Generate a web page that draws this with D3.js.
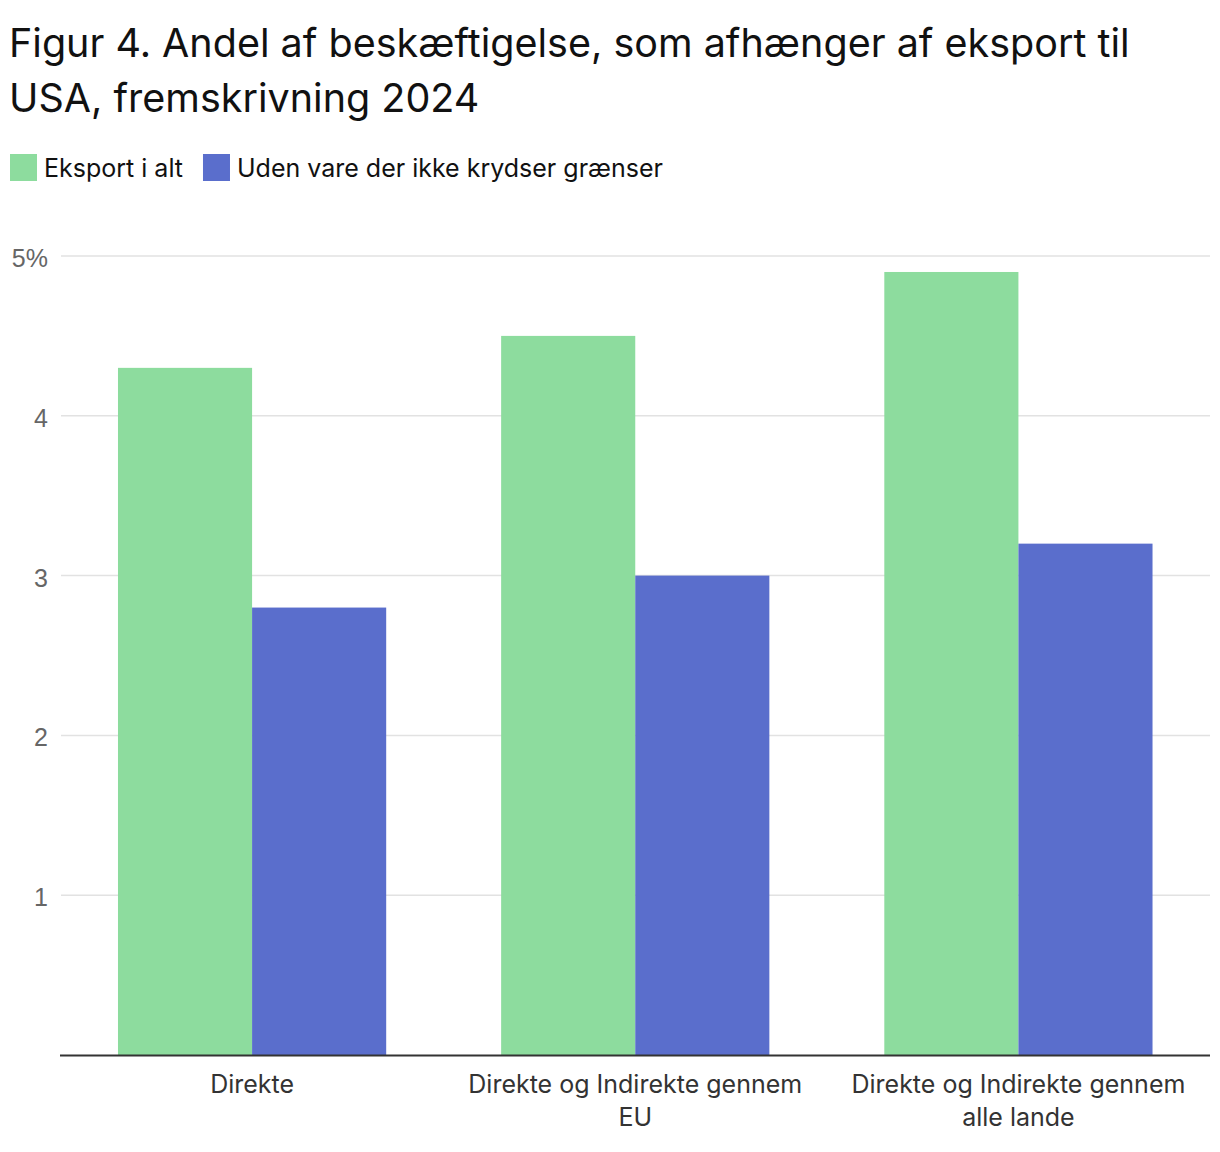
<!DOCTYPE html>
<html><head><meta charset="utf-8">
<script src="https://cdn.jsdelivr.net/npm/d3@7"></script>
<style>body{margin:0;background:#fff}svg{display:block}</style>
</head><body>
<script>
const categories = [["Direkte"], ["Direkte og Indirekte gennem", "EU"], ["Direkte og Indirekte gennem", "alle lande"]];
const seriesNames = ["Eksport i alt", "Uden vare der ikke krydser grænser"];
const eksportIAlt = [4.3, 4.5, 4.9];
const udenVare = [2.8, 3.0, 3.2];
const yTicks = [1, 2, 3, 4, 5];
const colors = ["#8ddc9e", "#5a6ecc"];

const W = 1220, H = 1152;
const svg = d3.select("body").append("svg").attr("width", W).attr("height", H);
const titleFont = "Inter, 'Open Sans', sans-serif";

const title = svg.append("text").attr("font-family", titleFont).attr("font-size", 39.5)
  .attr("fill", "#111").attr("letter-spacing", 0);
title.append("tspan").attr("x", 9).attr("y", 57).text("Figur 4. Andel af beskæftigelse, som afhænger af eksport til");
title.append("tspan").attr("x", 9).attr("y", 112).text("USA, fremskrivning 2024");

// legend
const lg = svg.append("g");
let lx = 10;
seriesNames.forEach((n, i) => {
  lg.append("rect").attr("x", lx).attr("y", 154).attr("width", 27).attr("height", 27).attr("fill", colors[i]);
  const t = lg.append("text").attr("x", lx + 34).attr("y", 177).attr("font-family", titleFont)
    .attr("font-size", 25).attr("fill", "#111").text(n);
  lx += 34 + t.node().getComputedTextLength() + 20;
});

const x0 = d3.scaleBand().domain(d3.range(categories.length)).range([60.5, 1210]).paddingInner(0.3).paddingOuter(0.15);
const x1 = d3.scaleBand().domain([0, 1]).range([0, x0.bandwidth()]);
const y = d3.scaleLinear().domain([0, 5]).range([1055, 256]);

// grid
svg.append("g").selectAll("line").data(yTicks).join("line")
  .attr("x1", 61).attr("x2", 1210).attr("y1", d => y(d)).attr("y2", d => y(d))
  .attr("stroke", "#e2e2e2").attr("stroke-width", 1.5);

svg.append("g").selectAll("text").data(yTicks).join("text")
  .attr("x", 48).attr("y", d => y(d) + 11).attr("text-anchor", "end")
  .attr("font-family", "'Liberation Sans', Arial, sans-serif").attr("font-size", 25).attr("fill", "#666")
  .text(d => d === 5 ? "5%" : d);

// bars
const series = [eksportIAlt, udenVare];
const g = svg.append("g");
categories.forEach((c, ci) => {
  series.forEach((s, si) => {
    g.append("rect").attr("x", x0(ci) + x1(si)).attr("width", x1.bandwidth())
      .attr("y", y(s[ci])).attr("height", y(0) - y(s[ci])).attr("fill", colors[si]);
  });
});

// axis line
svg.append("line").attr("x1", 60).attr("x2", 1210).attr("y1", y(0) + 0.5).attr("y2", y(0) + 0.5)
  .attr("stroke", "#333").attr("stroke-width", 2);

// x labels
categories.forEach((c, ci) => {
  const t = svg.append("text").attr("font-family", titleFont).attr("font-size", 25)
    .attr("fill", "#333").attr("text-anchor", "middle");
  c.forEach((line, li) => {
    t.append("tspan").attr("x", x0(ci) + x0.bandwidth() / 2).attr("y", 1093 + li * 33).text(line);
  });
});
</script>
</body></html>
